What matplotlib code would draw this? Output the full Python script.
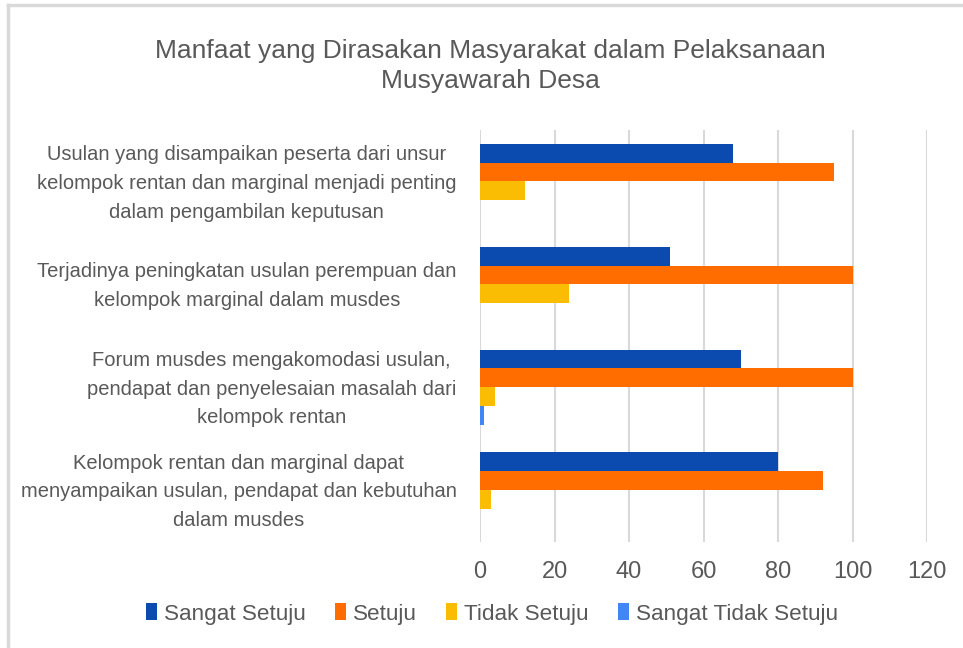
import numpy as np
import matplotlib.pyplot as plt
from matplotlib import rcParams
from matplotlib.lines import Line2D
from matplotlib.patches import Patch
from matplotlib.transforms import ScaledTranslation

rcParams['font.family'] = ['Liberation Sans', 'DejaVu Sans']

# data
categories = ['Usulan yang disampaikan peserta dari unsur\nkelompok rentan dan marginal menjadi penting\ndalam pengambilan keputusan',
              'Terjadinya peningkatan usulan perempuan dan\nkelompok marginal dalam musdes',
              'Forum musdes mengakomodasi usulan,\npendapat dan penyelesaian masalah dari\nkelompok rentan',
              'Kelompok rentan dan marginal dapat\nmenyampaikan usulan, pendapat dan kebutuhan\ndalam musdes']
series_names = ['Sangat Setuju', 'Setuju', 'Tidak Setuju', 'Sangat Tidak Setuju']
sangat_setuju = [68, 51, 70, 80]
setuju = [95, 100, 100, 92]
tidak_setuju = [12, 24, 4, 3]
sangat_tidak_setuju = [0, 0, 1, 0]
xticks = [0, 20, 40, 60, 80, 100, 120]

colors = ['#0B4BAF', '#FF6D00', '#FBBC04', '#4285F4']
grey = '#595959'

fig = plt.figure(figsize=(9.63, 6.48), dpi=100)
ax = fig.add_axes([480/963, 1 - 541.5/648, 447/963, 411.5/648])

y = np.arange(len(categories))
h = 0.1826
values = [sangat_setuju, setuju, tidak_setuju, sangat_tidak_setuju]
for i, vals in enumerate(values):
    ax.barh(y + (i - 1.5) * h, vals, height=h, color=colors[i], label=series_names[i], zorder=3)

ax.set_ylim(3.5, -0.5)
ax.set_xlim(0, 120)
ax.set_xticks(xticks)
ax.set_yticks(y)
ax.set_yticklabels(categories, multialignment='center', color=grey, fontsize=14.5,
                   linespacing=1.65)
ax.tick_params(axis='y', length=0, pad=17)
ax.tick_params(axis='x', length=0, pad=14, labelsize=17, labelcolor=grey)
# nudge category labels up a little
shift = ScaledTranslation(0, 5/100, fig.dpi_scale_trans)
for lab in ax.get_yticklabels():
    lab.set_transform(lab.get_transform() + shift)
ax.grid(axis='x', color='#D9D9D9', linewidth=1.5, zorder=0)
for s in ax.spines.values():
    s.set_visible(False)

fig.text(490/963, 1 - 66/648, 'Manfaat yang Dirasakan Masyarakat dalam Pelaksanaan\nMusyawarah Desa',
         ha='center', va='center', fontsize=19, color=grey, linespacing=1.3)

handles = [Patch(facecolor=c, edgecolor='none') for c in colors]
fig.legend(handles, series_names, loc='center', bbox_to_anchor=(492/963, 1 - 614/648),
           ncol=4, frameon=False, fontsize=16.2, handlelength=0.5, handleheight=0.75,
           handletextpad=0.3, columnspacing=1.3, labelcolor=grey)

# border (top and left only, the picture is cropped)
fig.add_artist(Line2D([8/963, 8/963], [0, 1 - 5/648], color='#D9D9D9', linewidth=2.5))
fig.add_artist(Line2D([8/963, 1], [1 - 5/648, 1 - 5/648], color='#D9D9D9', linewidth=2.5))

fig.savefig('out.png', dpi=100)
